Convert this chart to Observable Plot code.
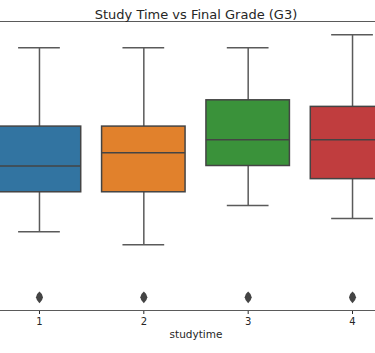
<!DOCTYPE html>
<html>
<head>
<meta charset="utf-8">
<script src="https://cdn.jsdelivr.net/npm/d3@7"></script>
<script src="https://cdn.jsdelivr.net/npm/@observablehq/plot@0.6"></script>
<style>
  html, body { margin: 0; padding: 0; background: #fff; overflow: hidden; }
  svg { overflow: hidden; }
</style>
</head>
<body>
<div id="chart"></div>
<script>
const categories = [1, 2, 3, 4];
const whiskerLow = [5, 4, 7, 6];
const q1 = [8, 8, 10, 9];
const median = [10, 11, 12, 12];
const q3 = [13, 13, 15, 14.5];
const whiskerHigh = [19, 19, 19, 20];
const outliers = [0, 0, 0, 0];
const colors = ["#3274a1", "#e1812c", "#3a923a", "#c03d3e"];
const tickLabels = ["1", "2", "3", "4"];

const rows = categories.map((c, i) => ({
  cat: c, lo: whiskerLow[i], q1: q1[i], med: median[i], q3: q3[i],
  hi: whiskerHigh[i], out: outliers[i], color: colors[i]
}));

const boxW = 0.4, capW = 0.2;
const edge = "#444444";
const whisk = "#5a5a5a";

const thinDiamond = {
  draw(ctx, size) {
    const r = Math.sqrt(size);
    const w = r * 0.6, h = r;
    ctx.moveTo(0, -h);
    ctx.quadraticCurveTo(w * 0.9, -h * 0.6, w, 0);
    ctx.quadraticCurveTo(w * 0.9, h * 0.6, 0, h);
    ctx.quadraticCurveTo(-w * 0.9, h * 0.6, -w, 0);
    ctx.quadraticCurveTo(-w * 0.9, -h * 0.6, 0, -h);
    ctx.closePath();
  }
};

const chart = Plot.plot({
  width: 375,
  height: 353,
  marginTop: 21,
  marginBottom: 43,
  marginLeft: 0,
  marginRight: 0,
  style: { fontFamily: "DejaVu Sans", fontSize: "10px", color: "#262626", background: "#fff" },
  x: {
    type: "linear",
    domain: [0.5, 4.5],
    range: [-13.2, 404.2],
    ticks: categories,
    tickFormat: (d) => tickLabels[categories.indexOf(d)],
    tickSize: 4,
    tickPadding: 3,
    label: null
  },
  y: { domain: [-1, 21], axis: null },
  marks: [
    Plot.ruleX(rows, { x: "cat", y1: "q3", y2: "hi", stroke: whisk, strokeWidth: 1.5 }),
    Plot.ruleX(rows, { x: "cat", y1: "lo", y2: "q1", stroke: whisk, strokeWidth: 1.5 }),
    Plot.ruleY(rows, { y: "hi", x1: d => d.cat - capW, x2: d => d.cat + capW, stroke: whisk, strokeWidth: 1.5 }),
    Plot.ruleY(rows, { y: "lo", x1: d => d.cat - capW, x2: d => d.cat + capW, stroke: whisk, strokeWidth: 1.5 }),
    Plot.rect(rows, { x1: d => d.cat - boxW, x2: d => d.cat + boxW, y1: "q1", y2: "q3", fill: "color", stroke: edge, strokeWidth: 1.5 }),
    Plot.ruleY(rows, { y: "med", x1: d => d.cat - boxW, x2: d => d.cat + boxW, stroke: edge, strokeWidth: 1.5 }),
    Plot.dot(rows, { x: "cat", y: "out", symbol: thinDiamond, r: 3.3, fill: edge, stroke: "none" }),
    Plot.ruleY([-1, 21], { stroke: "#5a5a5a", strokeWidth: 1 }),
    Plot.text(["Study Time vs Final Grade (G3)"], { x: 2.5, frameAnchor: "top", dy: -11.5, fontSize: 13, fill: "#262626" }),
    Plot.text(["studytime"], { x: 2.5, frameAnchor: "bottom", dy: 27, fontSize: 10.5, fill: "#262626" })
  ]
});
document.getElementById("chart").appendChild(chart);
</script>
</body>
</html>
